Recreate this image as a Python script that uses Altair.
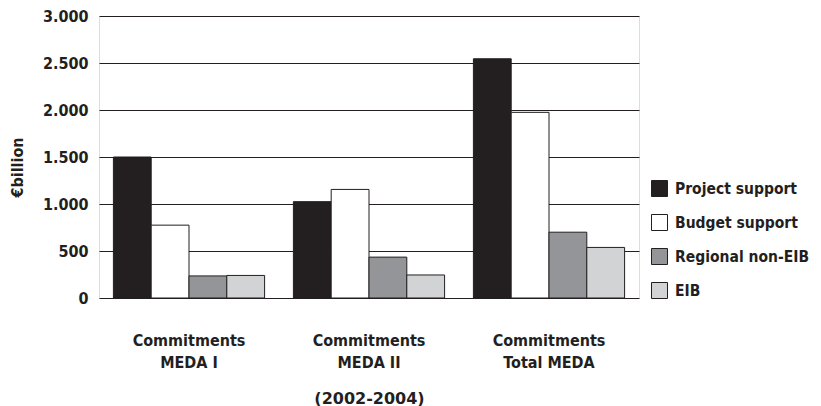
import altair as alt
import pandas as pd

groups = ["Commitments MEDA I", "Commitments MEDA II", "Commitments Total MEDA"]
series = ["Project support", "Budget support", "Regional non-EIB", "EIB"]
colors = ["#231f20", "#ffffff", "#939598", "#d1d3d4"]
project = [1500, 1025, 2545]
budget = [775, 1155, 1975]
regional = [235, 435, 700]
eib = [240, 245, 538]

rows = []
for i, g in enumerate(groups):
    for s, vals in zip(series, [project, budget, regional, eib]):
        rows.append({"group": g, "series": s, "value": vals[i]})
df = pd.DataFrame(rows)

FONT = "DejaVu Sans Condensed, Open Sans"
TFONT = "DejaVu Sans"
INK = "#231f20"

chart = alt.Chart(df).mark_bar(stroke=INK, strokeWidth=1).encode(
    x=alt.X("group:N", sort=groups,
            scale=alt.Scale(paddingInner=0.16, paddingOuter=0.08),
            axis=alt.Axis(title="(2002-2004)", labelAngle=0, domain=False, ticks=False,
                          labelPadding=34, labelFontSize=16, labelFont=FONT, labelFontWeight="bold",
                          labelColor=INK, labelLineHeight=22,
                          labelExpr="['Commitments', substring(datum.label, 12)]",
                          titleFont=TFONT, titleFontSize=16, titleFontWeight="bold", titleColor=INK,
                          titleBaseline="alphabetic", titleY=105)),
    xOffset=alt.XOffset("series:N", sort=series, scale=alt.Scale(paddingInner=0, paddingOuter=0)),
    y=alt.Y("value:Q", scale=alt.Scale(domain=[0, 3000]),
            axis=alt.Axis(title="€billion", values=[0, 500, 1000, 1500, 2000, 2500, 3000],
                          labelExpr="replace(format(datum.value, ',d'), ',', '.')",
                          domain=False, ticks=False, labelPadding=11,
                          labelFont=FONT, labelFontSize=16, labelFontWeight="bold", labelColor=INK,
                          titleFont=FONT, titleFontSize=16, titleFontWeight="bold", titleColor=INK,
                          titleBaseline="alphabetic", titleX=-77, titleY=151,
                          grid=True, gridColor=INK, gridWidth=1)),
    fill=alt.Fill("series:N", sort=series,
                  scale=alt.Scale(domain=series, range=colors),
                  legend=alt.Legend(title=None, orient="none", legendX=552, legendY=164,
                                    symbolType="square", symbolSize=256, symbolStrokeColor=INK,
                                    symbolStrokeWidth=1, rowPadding=13,
                                    labelExpr="(datum.label == 'Regional non-EIB' || datum.label == 'EIB') ? '\u00a0' + datum.label : datum.label",
                                    labelFont=FONT, labelFontSize=15.5, labelFontWeight="bold",
                                    labelColor=INK, labelOffset=7)),
).properties(
    width=540, height=282,
    autosize=alt.AutoSizeParams(type="none"),
    padding={"left": 91, "top": 8, "right": 174, "bottom": 110},
).configure_view(stroke=None).configure(background="white")

chart.save("out.html", embed_options={"renderer": "svg", "actions": False})
